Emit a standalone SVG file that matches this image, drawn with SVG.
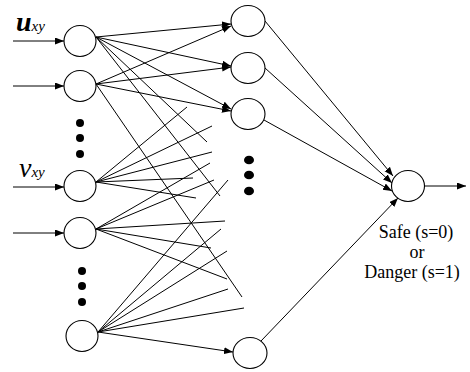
<svg xmlns="http://www.w3.org/2000/svg" width="470" height="372" viewBox="0 0 470 372">
<defs>
<marker id="ah" markerUnits="userSpaceOnUse" markerWidth="10" markerHeight="8" refX="9" refY="3.5" orient="auto">
<path d="M0,0 L9,3.5 L0,7 z" fill="#000"/>
</marker>
<style>
.n{fill:#fff;stroke:#000;stroke-width:1.1}
.c line{stroke:#000;stroke-width:1}
.a{marker-end:url(#ah)}
.d{fill:#000}
.t{font-family:"Liberation Serif","Times New Roman",serif;font-size:18px;fill:#000;text-anchor:middle}
.lab{font-family:"Liberation Serif","Times New Roman",serif;font-style:italic;fill:#000}
</style>
</defs>
<rect width="470" height="372" fill="#fff"/>
<g class="c" id="connectors">
<line class="a" x1="13" y1="41" x2="64" y2="41"/>
<line class="a" x1="13" y1="86" x2="64" y2="86"/>
<line class="a" x1="13" y1="187" x2="64" y2="187"/>
<line class="a" x1="13" y1="233" x2="64" y2="233"/>
<line class="a" x1="96" y1="37" x2="231" y2="24"/>
<line class="a" x1="96" y1="37" x2="231" y2="66"/>
<line class="a" x1="96" y1="37" x2="231" y2="109"/>
<line x1="96" y1="37" x2="207" y2="142"/>
<line x1="96" y1="37" x2="220" y2="196"/>
<line class="a" x1="96" y1="84" x2="231" y2="26"/>
<line class="a" x1="96" y1="84" x2="231" y2="67"/>
<line class="a" x1="96" y1="84" x2="231" y2="111"/>
<line x1="96" y1="84" x2="242" y2="297"/>
<line x1="96" y1="182" x2="187" y2="107"/>
<line x1="96" y1="182" x2="212" y2="126"/>
<line x1="96" y1="182" x2="212" y2="152"/>
<line x1="96" y1="182" x2="193" y2="178"/>
<line x1="96" y1="182" x2="196" y2="198"/>
<line x1="96" y1="229" x2="210" y2="163"/>
<line x1="96" y1="229" x2="214" y2="180"/>
<line x1="96" y1="229" x2="225" y2="221"/>
<line x1="96" y1="229" x2="211" y2="248"/>
<line x1="96" y1="229" x2="227" y2="279"/>
<line x1="98" y1="332" x2="228" y2="180"/>
<line x1="98" y1="332" x2="221" y2="229"/>
<line x1="98" y1="332" x2="227" y2="251"/>
<line x1="98" y1="332" x2="228" y2="289"/>
<line x1="98" y1="332" x2="244" y2="308"/>
<line class="a" x1="98" y1="332" x2="233" y2="352"/>
<line class="a" x1="265" y1="21" x2="393" y2="176"/>
<line class="a" x1="265" y1="68" x2="392" y2="183"/>
<line class="a" x1="264" y1="120" x2="392" y2="191"/>
<line class="a" x1="261" y1="341" x2="398" y2="198"/>
<line class="a" x1="425" y1="186" x2="466" y2="186"/>
</g>
<g id="in1"><ellipse class="n" cx="80" cy="41" rx="16" ry="15.5"/></g>
<g id="in2"><ellipse class="n" cx="80" cy="86" rx="16" ry="15.5"/></g>
<g id="in3"><ellipse class="n" cx="80" cy="186" rx="16" ry="15.5"/></g>
<g id="in4"><ellipse class="n" cx="80" cy="233" rx="16" ry="15.5"/></g>
<g id="in5"><ellipse class="n" cx="82" cy="336" rx="16" ry="15.5"/></g>
<g id="h1"><ellipse class="n" cx="248" cy="21" rx="17" ry="15.5"/></g>
<g id="h2"><ellipse class="n" cx="248" cy="68" rx="17" ry="15.5"/></g>
<g id="h3"><ellipse class="n" cx="248" cy="114" rx="17" ry="15.5"/></g>
<g id="h4"><ellipse class="n" cx="250" cy="353" rx="17" ry="15.5"/></g>
<g id="out"><ellipse class="n" cx="408" cy="186" rx="16.5" ry="15.5"/></g>
<g id="dots">
<circle class="d" cx="80" cy="123" r="4"/>
<circle class="d" cx="80" cy="138" r="4"/>
<circle class="d" cx="80" cy="154" r="4"/>
<circle class="d" cx="82" cy="271" r="4"/>
<circle class="d" cx="82" cy="286" r="4"/>
<circle class="d" cx="82" cy="302" r="4"/>
<ellipse class="d" cx="249" cy="160" rx="5" ry="4.3"/>
<ellipse class="d" cx="249" cy="175" rx="5" ry="4.3"/>
<ellipse class="d" cx="249" cy="191" rx="5" ry="4.3"/>
</g>
<g id="labels">
<text class="lab" x="16" y="31" font-size="28" font-weight="bold">u<tspan font-size="15" font-weight="normal">xy</tspan></text>
<text class="lab" x="19" y="177" font-size="28">v<tspan font-size="15">xy</tspan></text>
<text class="t" x="416" y="238">Safe (s=0)</text>
<text class="t" x="417" y="258">or</text>
<text class="t" x="412" y="278">Danger (s=1)</text>
</g>
</svg>
